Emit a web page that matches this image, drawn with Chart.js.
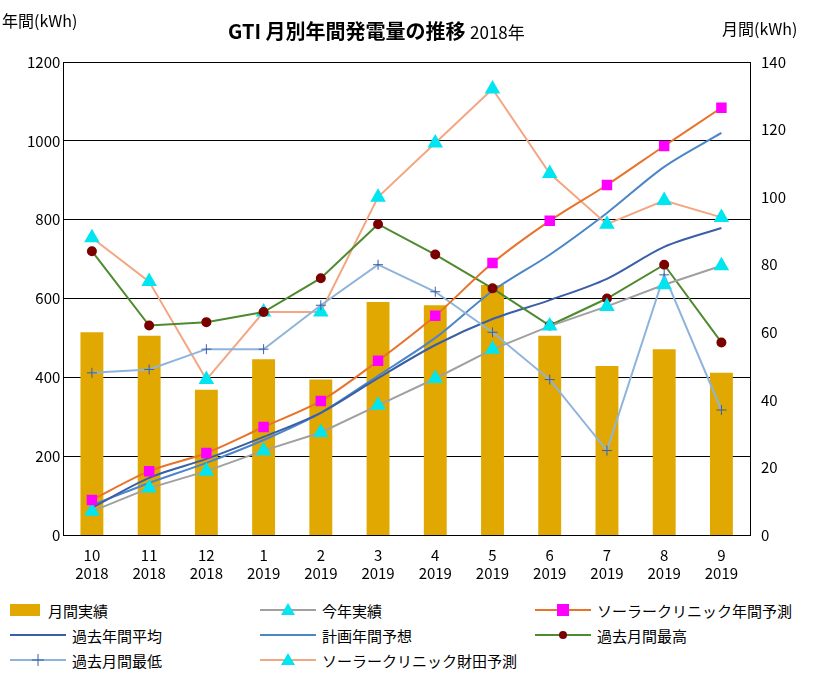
<!DOCTYPE html>
<html><head><meta charset="utf-8">
<script src="https://cdn.jsdelivr.net/npm/chart.js@4"></script>
<style>
body{margin:0;background:#fff;font-family:"Noto Sans CJK JP",sans-serif;}
#wrap{position:relative;width:815px;height:679px;}
#box{position:absolute;left:0;top:0;width:815px;height:585px;}
.t{position:absolute;color:#000;}
#legend{position:absolute;left:8px;top:600px;width:807px;font-size:15px;}
.li{position:absolute;display:flex;align-items:center;height:20px;white-space:nowrap;}
.li canvas{margin-right:4px;}
</style></head>
<body><div id="wrap">
<div id="box"><canvas id="c"></canvas></div>
<div class="t" style="left:228px;top:16px;font-size:20px;font-weight:bold;">GTI 月別年間発電量の推移 <span style="font-size:17px;font-weight:normal;">2018年</span></div>
<div class="t" style="left:2px;top:8px;font-size:16px;">年間(kWh)</div>
<div class="t" style="left:722px;top:16px;font-size:16px;">月間(kWh)</div>
<div id="legend"></div>
</div>
<script>
const months = ['10','11','12','1','2','3','4','5','6','7','8','9'];
const years = ['2018','2018','2018','2019','2019','2019','2019','2019','2019','2019','2019','2019'];
const monthly = [60,59,43,52,46,69,68,74,59,50,55,48];
const thisYear = [60,119,162,214,260,329,397,471,530,580,635,683];
const clinicAnnual = [89,162,208,274,340,442,556,690,797,888,987,1084];
const pastAvg = [69,145,193,249,310,398,482,548,596,650,731,779];
const planAnnual = [76,132,183,241,310,404,500,619,711,817,934,1020];
const pastMax = [84,62,63,66,76,92,83,73,62,70,80,57];
const pastMin = [48,49,55,55,68,80,72,60,46,25,77,37];
const clinicMonthly = [88,75,46,66,66,100,116,132,107,92,99,94];

const C = {bar:'#E0A800',gray:'#A0A0A0',orange:'#E8732A',dblue:'#3A5FA8',mblue:'#4A86C8',dred:'#7B0000',lblue:'#8FB4DC',salmon:'#F4A682',cyan:'#00E5F0',mag:'#FF00FF'};

const datasets = [
 {type:'bar',label:'月間実績',data:monthly,yAxisID:'y1',backgroundColor:C.bar,barPercentage:0.4,categoryPercentage:1,order:10},
 {type:'line',label:'今年実績',data:thisYear,yAxisID:'y',borderColor:C.gray,borderWidth:2,pointStyle:'triangle',pointRadius:7,pointBackgroundColor:C.cyan,pointBorderColor:C.cyan,order:2},
 {type:'line',label:'ソーラークリニック年間予測',data:clinicAnnual,yAxisID:'y',borderColor:C.orange,borderWidth:2,tension:0.3,pointStyle:'rect',pointRadius:6,pointBackgroundColor:C.mag,pointBorderColor:C.mag,order:1},
 {type:'line',label:'過去年間平均',data:pastAvg,yAxisID:'y',borderColor:C.dblue,borderWidth:2,tension:0.3,pointRadius:0,order:3},
 {type:'line',label:'計画年間予想',data:planAnnual,yAxisID:'y',borderColor:C.mblue,borderWidth:2,tension:0.3,pointRadius:0,order:3},
 {type:'line',label:'過去月間最高',data:pastMax,yAxisID:'y1',borderColor:'#4E8A2E',borderWidth:2,pointRadius:4,pointBackgroundColor:C.dred,pointBorderColor:C.dred,order:2},
 {type:'line',label:'過去月間最低',data:pastMin,yAxisID:'y1',borderColor:C.lblue,borderWidth:2,pointStyle:'cross',pointRadius:5,pointBorderColor:C.dblue,pointBorderWidth:1,order:2},
 {type:'line',label:'ソーラークリニック財田予測',data:clinicMonthly,yAxisID:'y1',borderColor:C.salmon,borderWidth:2,pointStyle:'triangle',pointRadius:7,pointBackgroundColor:C.cyan,pointBorderColor:C.cyan,order:2}
];

Chart.defaults.font.family = "'Noto Sans CJK JP', sans-serif";
Chart.defaults.color = '#000';

new Chart(document.getElementById('c'), {
  data:{labels:months.map((m,i)=>[m,years[i]]),datasets},
  options:{
    responsive:true,maintainAspectRatio:false,animation:false,
    layout:{padding:{top:62,left:24,right:26,bottom:0}},
    plugins:{legend:{display:false},tooltip:{enabled:false}},
    scales:{
      x:{grid:{display:false},border:{color:'#000'},ticks:{font:{size:15},color:'#000'}},
      y:{position:'left',min:0,max:1200,ticks:{stepSize:200,font:{size:15},callback:v=>v},grid:{color:'#000',drawTicks:false},border:{color:'#000'}},
      y1:{position:'right',min:0,max:140,ticks:{stepSize:20,font:{size:15}},grid:{display:false},border:{color:'#000'}}
    }
  }
});

// legend
const items = [
 ['月間実績','bar',0,0],['今年実績',C.gray,'tri',1],['ソーラークリニック年間予測',C.orange,'sq',2],
 ['過去年間平均',C.dblue,null,0],['計画年間予想',C.mblue,null,1],['過去月間最高','#4E8A2E','dot',2],
 ['過去月間最低',C.lblue,'cross',0],['ソーラークリニック財田予測',C.salmon,'tri',1]
];
const colX=[0,250,525];
const lg=document.getElementById('legend');
items.forEach((it,i)=>{
  const row=Math.floor(i/3), col=i%3;
  const d=document.createElement('div'); d.className='li';
  d.style.left=colX[col]+'px'; d.style.top=(row*25)+'px';
  const cv=document.createElement('canvas'); cv.width=60; cv.height=16;
  const g=cv.getContext('2d');
  if(it[1]==='bar'){cv.width=36;g.fillStyle=C.bar;g.fillRect(2,2,30,12);}
  else{
    g.strokeStyle=it[1];g.lineWidth=2;g.beginPath();g.moveTo(2,8);g.lineTo(58,8);g.stroke();
    if(it[2]==='tri'){g.fillStyle=C.cyan;g.beginPath();g.moveTo(30,1);g.lineTo(37,13);g.lineTo(23,13);g.fill();}
    if(it[2]==='sq'){g.fillStyle=C.mag;g.fillRect(24,2,12,12);}
    if(it[2]==='dot'){g.fillStyle=C.dred;g.beginPath();g.arc(30,8,4,0,7);g.fill();}
    if(it[2]==='cross'){g.strokeStyle=C.dblue;g.lineWidth=1;g.beginPath();g.moveTo(30,2);g.lineTo(30,14);g.moveTo(24,8);g.lineTo(36,8);g.stroke();}
  }
  d.appendChild(cv);
  const s=document.createElement('span'); s.textContent=it[0]; d.appendChild(s);
  lg.appendChild(d);
});
</script>
</body></html>
